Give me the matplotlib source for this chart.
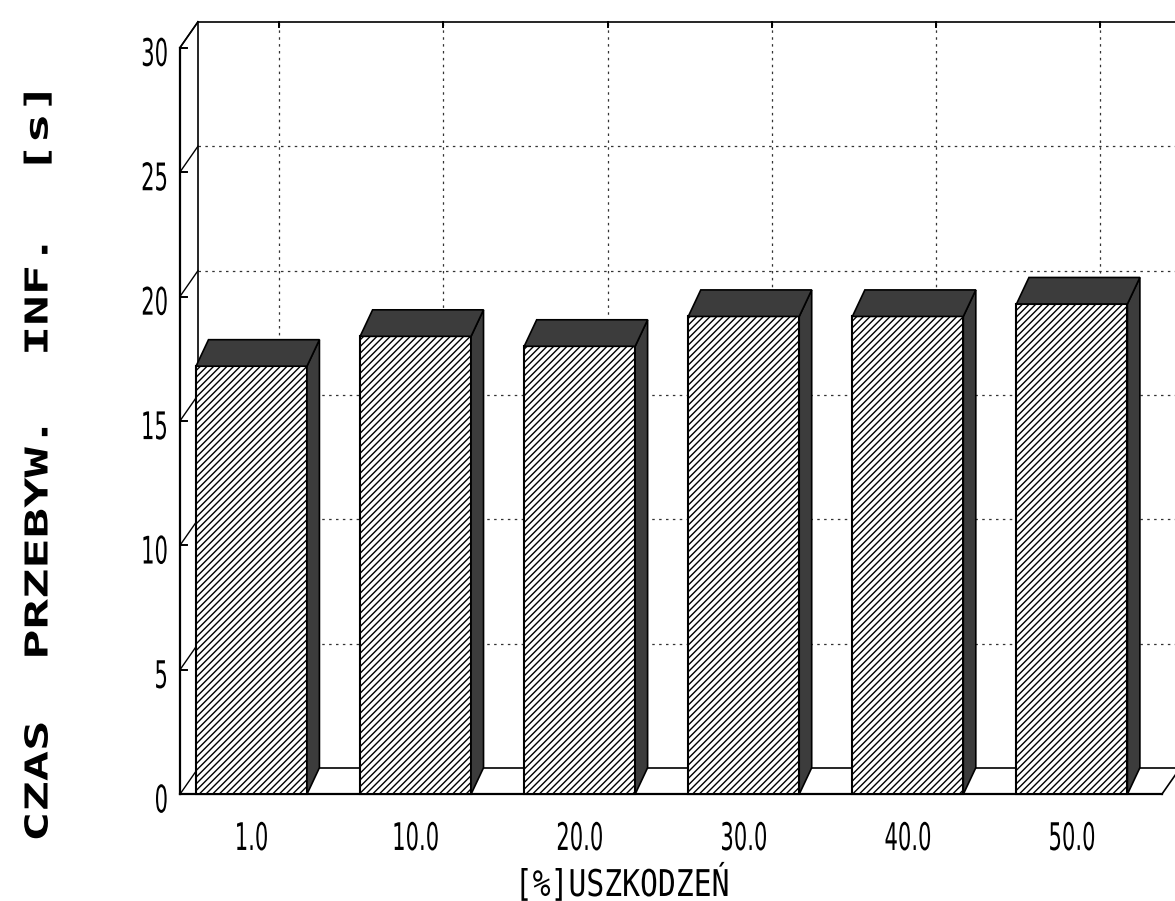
import matplotlib
matplotlib.use("Agg")
import matplotlib.pyplot as plt
from matplotlib.patches import Polygon
from matplotlib.patheffects import AbstractPathEffect
from matplotlib.transforms import Affine2D

# czas przebywania informacji w zaleznosci od stopnia uszkodzen
uszkodzenia = ['1.0', '10.0', '20.0', '30.0', '40.0', '50.0']
czas = [17.2, 18.4, 18.0, 19.2, 19.2, 19.7]
yticks = [0, 5, 10, 15, 20, 25, 30]


class Stretch(AbstractPathEffect):
    """Skaluje glify w ukladzie tekstu (waskie / szerokie litery plotera)."""

    def __init__(self, sx=1.0, sy=1.0):
        super().__init__()
        self.sx = sx
        self.sy = sy

    def draw_path(self, renderer, gc, tpath, affine, rgbFace=None):
        renderer.draw_path(gc, tpath, Affine2D().scale(self.sx, self.sy) + affine, rgbFace)


plt.rcParams['hatch.linewidth'] = 1.0

fig = plt.figure(figsize=(11.75, 9.01), dpi=100)
ax = fig.add_axes([0.1498, 0.1047, 0.8502, 0.8866])
ax.set_xlim(-0.46, 5.628)
ax.set_ylim(-0.5, 31.6)
ax.axis('off')

x = list(range(len(czas)))
front_x = -0.436          # przednia os Y
wx, wy = 0.11, 1.04       # glebokosc scian
bx, by = 0.076, 1.065     # glebokosc slupkow
half = 0.338
right_x = 5.548
top_x = 5.628
grid = dict(color='#333333', lw=0.9, ls=(0, (2, 3.5)), zorder=1)

# sciany i podloga
ax.plot([front_x, front_x], [0, 30], color='k', lw=1.6, zorder=2)
ax.plot([front_x, front_x + wx], [30, 30 + wy], color='k', lw=1.2, zorder=2)
ax.plot([front_x + wx] * 2, [wy, 30 + wy], color='k', lw=1.2, zorder=2)
ax.plot([front_x + wx, top_x], [30 + wy] * 2, color='k', lw=1.2, zorder=2)
ax.plot([front_x + wx, top_x], [wy, wy], color='k', lw=1.2, zorder=2)
ax.plot([front_x, right_x], [0, 0], color='k', lw=1.6, zorder=2)
ax.plot([right_x, right_x + wx], [0, wy], color='k', lw=1.2, zorder=2)

# znaczniki osi Y i siatka
for v in yticks:
    ax.plot([front_x, front_x + 0.04], [v, v], color='k', lw=1.4, zorder=2)
    ax.plot([front_x, front_x + wx], [v, v + wy], color='k', lw=1.0, zorder=2)
    ax.text(-0.509, v - 0.73, str(v), ha='right', va='baseline', fontsize=15.2,
            family='DejaVu Sans', path_effects=[Stretch(1.0, 1.8)])
for v in yticks[1:-1]:
    ax.plot([front_x + wx, top_x], [v + wy] * 2, **grid)
for i in x:
    ax.plot([i + 0.17] * 2, [wy, 30 + wy], **grid)
    ax.plot([i + 0.17] * 2, [30 + wy, 30 + wy - 0.22], color='k', lw=1.4, zorder=2)

# slupki: przod z ax.bar, bok i gora jako wielokaty
ax.bar(x, czas, width=2 * half, color='white', edgecolor='black', hatch='/////',
       lw=1.5, zorder=3)
dark = dict(facecolor='#3c3c3c', edgecolor='black', lw=1.2, zorder=3)
for i, v in zip(x, czas):
    ax.add_patch(Polygon([(i + half, 0), (i + half + bx, by), (i + half + bx, v + by),
                          (i + half, v)], **dark))
    ax.add_patch(Polygon([(i - half, v), (i - half + bx, v + by), (i + half + bx, v + by),
                          (i + half, v)], **dark))

for i, lab in zip(x, uszkodzenia):
    ax.text(i, -2.24, lab, ha='center', va='baseline', fontsize=15.2,
            family='DejaVu Sans', path_effects=[Stretch(1.0, 1.8)])

ax.text(2.258, -4.09, '[%]USZKODZEŃ', ha='center', va='baseline', fontsize=21.4,
        family='DejaVu Sans Mono', path_effects=[Stretch(1.0, 1.24)])

fig.text(39 / 1175, 59 / 901, 'CZAS  PRZEBYW.  INF.  [s]', rotation=90,
         ha='center', va='bottom', fontsize=22.7, family='DejaVu Sans Mono',
         weight='bold', path_effects=[Stretch(1.6, 1.0)])

fig.savefig('out.png', dpi=100, facecolor='white')
